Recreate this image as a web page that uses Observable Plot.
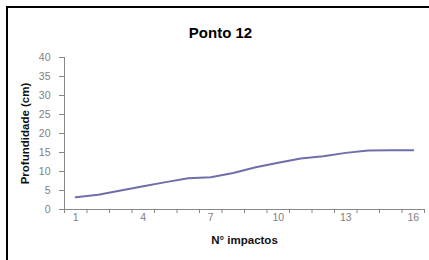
<!DOCTYPE html>
<html>
<head>
<meta charset="utf-8">
<script src="https://cdn.jsdelivr.net/npm/d3@7"></script>
<script src="https://cdn.jsdelivr.net/npm/@observablehq/plot@0.6"></script>
<style>
  html, body { margin: 0; padding: 0; background: #fff; }
  #wrap { position: relative; width: 429px; height: 260px; overflow: hidden; }
  #border { position: absolute; left: 6px; top: 6px; width: 440px; height: 270px;
            border-left: 2px solid #000; border-top: 2px solid #000; box-sizing: border-box; }
  #chart { position: absolute; left: 0; top: 0; }
</style>
</head>
<body>
<div id="wrap"><div id="border"></div><div id="chart"></div></div>
<script>
const title = "Ponto 12";
const xLabel = "N° impactos";
const yLabel = "Profundidade (cm)";
const impactos = [1, 2, 3, 4, 5, 6, 7, 8, 9, 10, 11, 12, 13, 14, 15, 16];
const profundidade = [3.2, 3.9, 5.0, 6.1, 7.2, 8.2, 8.5, 9.6, 11.1, 12.3, 13.4, 14.0, 14.9, 15.5, 15.6, 15.6];
const yTicks = [0, 5, 10, 15, 20, 25, 30, 35, 40];
const xTickLabels = [1, 4, 7, 10, 13, 16];
const xBoundaries = d3.range(0.5, 17, 1);

const data = impactos.map((x, i) => ({x, y: profundidade[i]}));

const plot = Plot.plot({
  width: 429,
  height: 260,
  marginTop: 57,
  marginBottom: 51,
  marginLeft: 64,
  marginRight: 5,
  style: {fontFamily: "Arial, 'Liberation Sans', sans-serif", background: "transparent", overflow: "visible"},
  x: {domain: [0.5, 16.5]},
  y: {domain: [0, 40]},
  marks: [
    Plot.ruleX([0.5], {stroke: "#888", strokeWidth: 1}),
    Plot.ruleY([0], {stroke: "#888", strokeWidth: 1}),
    Plot.axisY({ticks: yTicks, tickSize: 5, tickPadding: 9, label: null, stroke: "#888",
                fill: "#808080", fontSize: 10.5}),
    Plot.axisX({ticks: xBoundaries, tickSize: 4, tickFormat: () => "", label: null, stroke: "#888"}),
    Plot.axisX({ticks: xTickLabels, tickSize: 0, tickPadding: 4, label: null, fill: "#808080", fontSize: 10.5}),
    Plot.line(data, {x: "x", y: "y", stroke: "#6e6eaa", strokeWidth: 2}),
    Plot.text([title], {frameAnchor: "top", dx: -24, dy: -30, fontSize: 15, fontWeight: "bold", fill: "#000"}),
    Plot.text([xLabel], {frameAnchor: "bottom", dy: 34, fontSize: 11.5, fontWeight: "bold", fill: "#111", letterSpacing: "0.5px"}),
    Plot.text([yLabel], {frameAnchor: "left", textAnchor: "middle", dx: -39, rotate: -90, fontSize: 11.5, fontWeight: "bold", fill: "#111"})
  ]
});
document.getElementById("chart").appendChild(plot);
</script>
</body>
</html>
